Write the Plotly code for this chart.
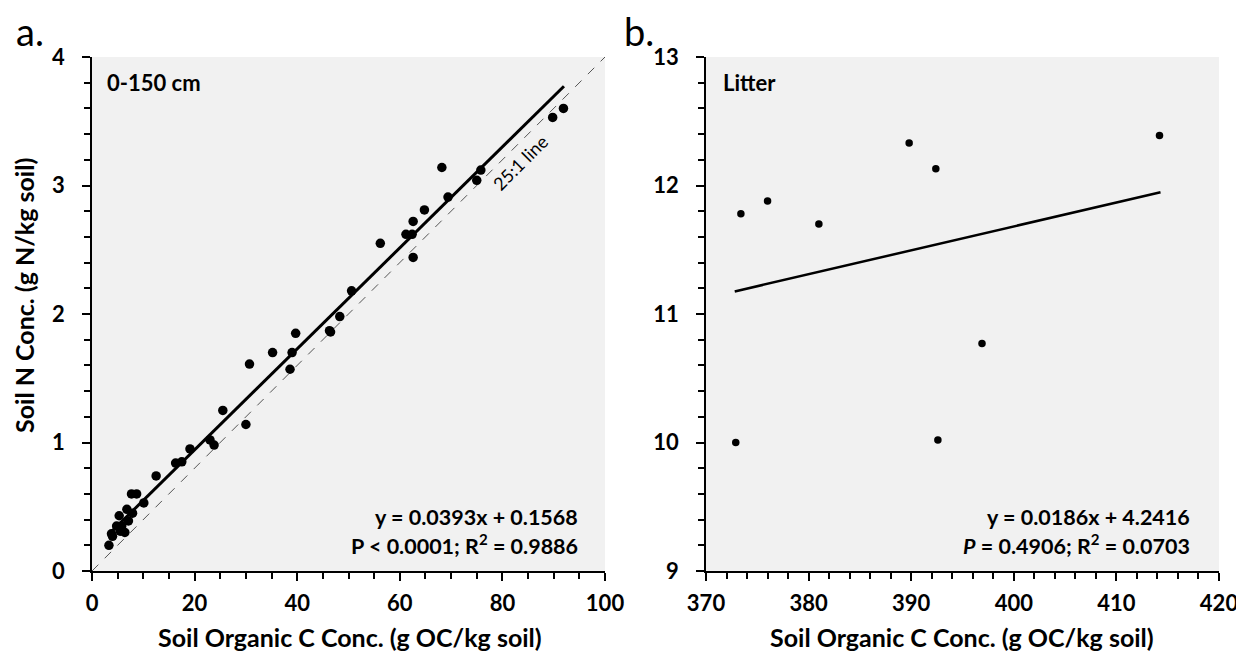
import plotly.graph_objects as go

# ---- Panel a data (0-150 cm) ----
soc_a = [3.3, 3.8, 4.0, 5.3, 4.8, 5.8, 5.5, 6.4, 6.8, 7.1, 7.9, 7.7, 8.7, 10.1, 12.5,
         16.3, 17.5, 19.1, 23.0, 23.8, 25.5, 30.0, 30.7, 35.2, 39.0, 38.6, 39.7,
         46.3, 46.5, 48.3, 50.6, 56.2, 61.2, 62.6, 62.4, 62.6, 64.8, 68.2, 69.4,
         75.0, 75.8, 89.8, 91.9]
n_a = [0.20, 0.29, 0.27, 0.43, 0.35, 0.35, 0.31, 0.30, 0.48, 0.39, 0.45, 0.60, 0.60, 0.53, 0.74,
       0.84, 0.85, 0.95, 1.02, 0.98, 1.25, 1.14, 1.61, 1.70, 1.70, 1.57, 1.85,
       1.87, 1.86, 1.98, 2.18, 2.55, 2.62, 2.72, 2.62, 2.44, 2.81, 3.14, 2.91,
       3.04, 3.12, 3.53, 3.60]
slope_a, icpt_a = 0.0393, 0.1568
fit_x_a = [3.3, 92.0]
ratio_x = [0, 100]
ratio = 25.0
xticks_a = [0, 20, 40, 60, 80, 100]
yticks_a = [0, 1, 2, 3, 4]

# ---- Panel b data (Litter) ----
soc_b = [373.4, 376.0, 381.0, 389.8, 392.4, 414.2, 396.9, 372.9, 392.6]
n_b = [11.78, 11.88, 11.70, 12.33, 12.13, 12.39, 10.77, 10.00, 10.02]
slope_b, icpt_b = 0.0186, 4.2416
fit_x_b = [372.8, 414.3]
xticks_b = [370, 380, 390, 400, 410, 420]
yticks_b = [9, 10, 11, 12, 13]

# page body has an 8px margin: shrink the figure and shift coordinates so that
# positions below are in screenshot pixels
SW, SH = 1244, 655
OFF = 8
W, H = SW - OFF, SH - OFF
FONT = "Lato"


def px_x(p):
    return (p - OFF) / W


def px_y(p):
    return (H - (p - OFF)) / H


fig = go.Figure()

# 25:1 line
fig.add_trace(go.Scatter(x=ratio_x, y=[v / ratio for v in ratio_x], mode="lines",
                         line=dict(color="#555555", width=1, dash="dash"),
                         xaxis="x", yaxis="y", showlegend=False, hoverinfo="skip"))
# fit a
fig.add_trace(go.Scatter(x=fit_x_a, y=[slope_a * v + icpt_a for v in fit_x_a], mode="lines",
                         line=dict(color="black", width=3),
                         xaxis="x", yaxis="y", showlegend=False))
fig.add_trace(go.Scatter(x=soc_a, y=n_a, mode="markers",
                         marker=dict(color="black", size=9.5),
                         xaxis="x", yaxis="y", showlegend=False))
# fit b
fig.add_trace(go.Scatter(x=fit_x_b, y=[slope_b * v + icpt_b for v in fit_x_b], mode="lines",
                         line=dict(color="black", width=2.5),
                         xaxis="x2", yaxis="y2", showlegend=False))
fig.add_trace(go.Scatter(x=soc_b, y=n_b, mode="markers",
                         marker=dict(color="black", size=7.5),
                         xaxis="x2", yaxis="y2", showlegend=False))

tickfont = dict(family=FONT, size=22, color="black", weight="bold")
common = dict(showline=True, linecolor="black", linewidth=1.5, ticks="outside",
              ticklen=8, tickwidth=1.5, tickcolor="black", showgrid=False,
              zeroline=False, tickfont=tickfont, fixedrange=True, tickmode="array",
              automargin=False)


def bt(vals):
    return ["<b>%d</b>" % v for v in vals]


def minor(d):
    return dict(dtick=d, ticklen=6, ticks="outside", tickcolor="black", tickwidth=1.5)


yd = [px_y(571), px_y(57)]
fig.update_layout(
    width=W, height=H,
    margin=dict(l=0, r=0, t=0, b=0, autoexpand=False),
    paper_bgcolor="white", plot_bgcolor="#f1f1f1",
    xaxis=dict(domain=[px_x(92), px_x(605)], range=[0, 100], anchor="y",
               tickvals=xticks_a, ticktext=bt(xticks_a), minor=minor(5),
               ticklabelstandoff=4, **common),
    yaxis=dict(domain=yd, range=[0, 4], anchor="x",
               tickvals=yticks_a, ticktext=bt(yticks_a), minor=minor(0.2),
               ticklabelstandoff=13, **common),
    xaxis2=dict(domain=[px_x(706), px_x(1219)], range=[370, 420], anchor="y2",
                tickvals=xticks_b, ticktext=bt(xticks_b), minor=minor(2),
                ticklabelstandoff=4, **common),
    yaxis2=dict(domain=yd, range=[9, 13], anchor="x2",
                tickvals=yticks_b, ticktext=bt(yticks_b), minor=minor(0.2),
                ticklabelstandoff=13, **common),
)

ann = []
bold = dict(family=FONT, size=22, color="black", weight="bold")
# panel labels
ann.append(dict(text="a.", x=px_x(14), y=px_y(31), xref="paper", yref="paper",
                xanchor="left", yanchor="middle", showarrow=False,
                font=dict(family=FONT, size=38, color="black")))
ann.append(dict(text="b.", x=px_x(622), y=px_y(31), xref="paper", yref="paper",
                xanchor="left", yanchor="middle", showarrow=False,
                font=dict(family=FONT, size=38, color="black")))
# inner titles
ann.append(dict(text="0-150 cm", x=px_x(105), y=px_y(83), xref="paper", yref="paper",
                xanchor="left", yanchor="middle", showarrow=False, font=bold))
ann.append(dict(text="Litter", x=px_x(721), y=px_y(83), xref="paper", yref="paper",
                xanchor="left", yanchor="middle", showarrow=False, font=bold))
# regression text
rfont = dict(bold, size=21.5)
ann.append(dict(text="y = 0.0393x + 0.1568", x=px_x(580), y=px_y(517), xref="paper", yref="paper",
                xanchor="right", yanchor="middle", showarrow=False, font=rfont))
ann.append(dict(text="P &lt; 0.0001; R<sup>2</sup> = 0.9886", x=px_x(580), y=px_y(544),
                xref="paper", yref="paper", xanchor="right", yanchor="middle",
                showarrow=False, font=rfont))
ann.append(dict(text="y = 0.0186x + 4.2416", x=px_x(1192), y=px_y(517), xref="paper", yref="paper",
                xanchor="right", yanchor="middle", showarrow=False, font=rfont))
ann.append(dict(text="<i>P</i> = 0.4906; R<sup>2</sup> = 0.0703", x=px_x(1192), y=px_y(544),
                xref="paper", yref="paper", xanchor="right", yanchor="middle",
                showarrow=False, font=rfont))
# 25:1 label
ann.append(dict(text="25:1 line", x=83.6, y=3.18, xref="x", yref="y", textangle=-45,
                showarrow=False, font=dict(family=FONT, size=18, color="black")))
# axis titles
xt = "Soil Organic C Conc. (g OC/kg soil)"
tfont = dict(bold, size=25)
ann.append(dict(text=xt, x=px_x(350), y=px_y(637), xref="paper", yref="paper",
                xanchor="center", yanchor="middle", showarrow=False, font=tfont))
ann.append(dict(text=xt, x=px_x(962), y=px_y(637), xref="paper", yref="paper",
                xanchor="center", yanchor="middle", showarrow=False, font=tfont))
ann.append(dict(text="Soil N Conc. (g N/kg soil)", x=px_x(24), y=px_y(296), xref="paper", yref="paper",
                xanchor="center", yanchor="middle", textangle=-90, showarrow=False,
                font=dict(bold, size=25)))
fig.update_layout(annotations=ann)

fig.write_html("out.html")
